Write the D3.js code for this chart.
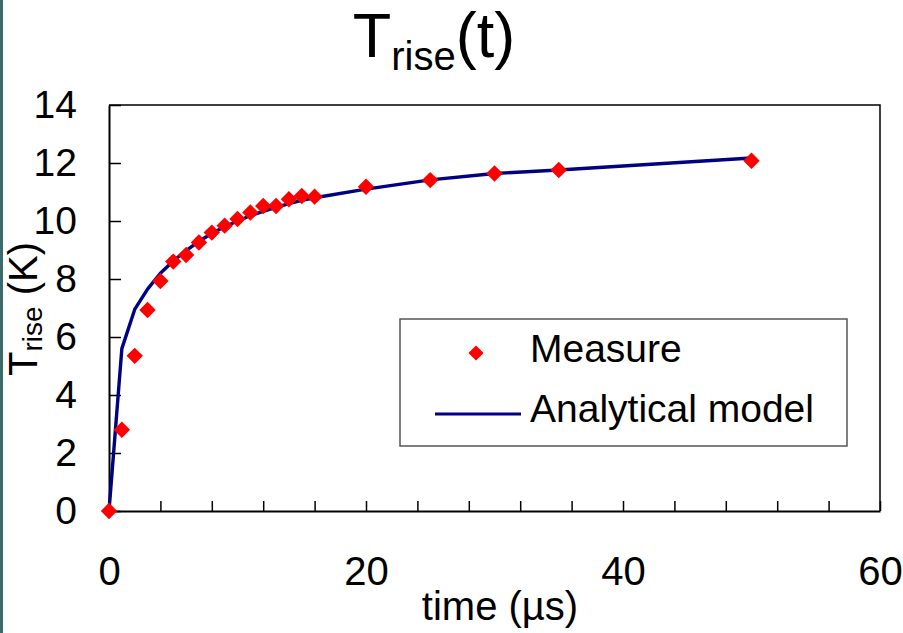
<!DOCTYPE html>
<html>
<head>
<meta charset="utf-8">
<script src="https://cdn.jsdelivr.net/npm/d3@7"></script>
<style>
  body { margin: 0; background: #fff; }
  svg { display: block; font-family: "Liberation Sans", Arial, sans-serif; }
</style>
</head>
<body>
<svg id="chart" width="903" height="633"></svg>
<script>
// time in microseconds
var times   = [0, 1, 2, 3, 4, 5, 6, 7, 8, 9, 10, 11, 12, 13, 14, 15, 16, 20, 25, 30, 35, 50];
// measured temperature rise (K)
var measure = [0, 2.8, 5.35, 6.93, 7.93, 8.6, 8.83, 9.26, 9.6, 9.84, 10.07, 10.29, 10.52, 10.52, 10.75, 10.86, 10.84, 11.18, 11.41, 11.64, 11.76, 12.08];
// analytical model (K)
var model   = [0, 5.6, 6.95, 7.65, 8.2, 8.62, 8.98, 9.3, 9.57, 9.8, 10.0, 10.18, 10.33, 10.47, 10.6, 10.71, 10.8, 11.1, 11.42, 11.64, 11.76, 12.17];

var xLabels = [0, 20, 40, 60];
var xTickMarks = [0, 4, 8, 12, 16, 20, 24, 28, 32, 36, 40, 44, 48, 52, 56, 60];
var yTicks = [0, 2, 4, 6, 8, 10, 12, 14];

var svg = d3.select("#chart");
var plotLeft = 109, plotRight = 880, plotTop = 105, plotBottom = 511;

var x = d3.scaleLinear().domain([0, 60]).range([plotLeft, plotRight]);
var y = d3.scaleLinear().domain([0, 14]).range([plotBottom, plotTop]);

// teal strip on the left edge
svg.append("rect").attr("x", 0).attr("y", 0).attr("width", 3).attr("height", 633).attr("fill", "#3b6a6b");

// title
var title = svg.append("text")
    .attr("x", 434).attr("y", 57)
    .attr("text-anchor", "middle")
    .attr("font-size", 63)
    .attr("fill", "#000");
title.append("tspan").text("T");
title.append("tspan").attr("font-size", 40).attr("dy", 13).text("rise");
title.append("tspan").attr("dy", -13).text("(t)");

// axes
var xAxis = d3.axisBottom(x)
    .tickValues(xTickMarks)
    .tickSizeInner(-10).tickSizeOuter(0)
    .tickPadding(45.6)
    .tickFormat(function(d) { return xLabels.indexOf(d) >= 0 ? d : ""; });

var gx = svg.append("g").attr("transform", "translate(0," + plotBottom + ")").call(xAxis);

var yAxis = d3.axisLeft(y)
    .tickValues(yTicks)
    .tickSizeInner(-12).tickSizeOuter(0)
    .tickPadding(32);

var gy = svg.append("g").attr("transform", "translate(" + plotLeft + ",0)").call(yAxis);

[gx, gy].forEach(function(g) {
  g.selectAll("path.domain").attr("stroke", "#000").attr("stroke-width", 2);
  g.selectAll(".tick line").attr("stroke", "#000").attr("stroke-width", 1.5);
  g.selectAll(".tick text").attr("fill", "#000")
    .attr("font-family", "Liberation Sans, Arial, sans-serif");
});
gx.selectAll(".tick text").attr("font-size", 40);
gy.selectAll(".tick text").attr("font-size", 39);

// top and right frame
svg.append("path")
    .attr("d", "M" + plotLeft + "," + plotTop + "H" + plotRight + "V" + plotBottom)
    .attr("fill", "none").attr("stroke", "#000").attr("stroke-width", 1.5);

// axis titles
svg.append("text")
    .attr("x", 500).attr("y", 620)
    .attr("text-anchor", "middle")
    .attr("font-size", 40)
    .text("time (\u00b5s)");

var yt = svg.append("text")
    .attr("transform", "translate(37,309) rotate(-90)")
    .attr("text-anchor", "middle")
    .attr("font-size", 40);
yt.append("tspan").text("T");
yt.append("tspan").attr("font-size", 28).attr("dy", 5).text("rise");
yt.append("tspan").attr("dy", -5).text(" (K)");

// model line
var line = d3.line()
    .x(function(d, i) { return x(times[i]); })
    .y(function(d) { return y(d); });

svg.append("path")
    .datum(model)
    .attr("d", line)
    .attr("fill", "none")
    .attr("stroke", "#000080")
    .attr("stroke-width", 3.4)
    .attr("stroke-linejoin", "round");

// measured points (diamonds)
var diamond = d3.symbol().type(d3.symbolSquare).size(135);

svg.selectAll(".pt")
    .data(measure)
  .enter().append("path")
    .attr("class", "pt")
    .attr("d", diamond)
    .attr("transform", function(d, i) { return "translate(" + x(times[i]) + "," + y(d) + ") rotate(45)"; })
    .attr("fill", "#ff0000");

// legend
var lg = svg.append("g");
lg.append("rect")
    .attr("x", 400).attr("y", 319).attr("width", 447).attr("height", 127)
    .attr("fill", "#fff").attr("stroke", "#555").attr("stroke-width", 1.5);
lg.append("path")
    .attr("d", d3.symbol().type(d3.symbolSquare).size(115))
    .attr("transform", "translate(476,353) rotate(45)")
    .attr("fill", "#ff0000");
lg.append("text").attr("x", 530).attr("y", 362).attr("font-size", 39).text("Measure");
lg.append("line")
    .attr("x1", 435).attr("x2", 521).attr("y1", 414).attr("y2", 414)
    .attr("stroke", "#000080").attr("stroke-width", 3);
lg.append("text").attr("x", 530).attr("y", 422).attr("font-size", 39).text("Analytical model");
</script>
</body>
</html>
